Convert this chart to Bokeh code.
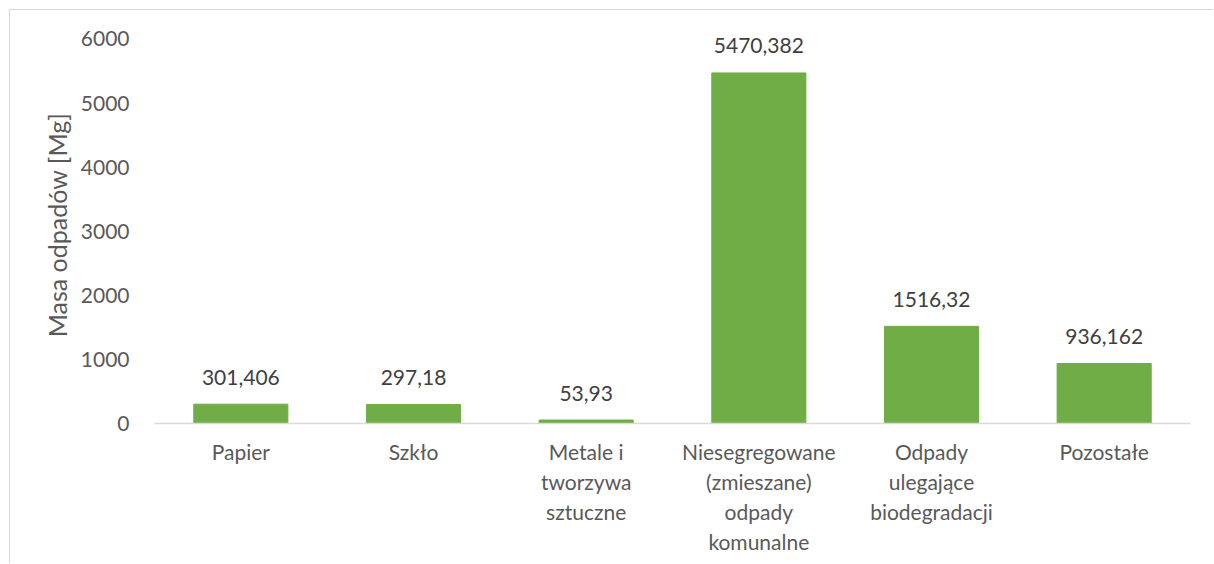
from bokeh.plotting import figure
from bokeh.models import ColumnDataSource, Range1d, FixedTicker
from bokeh.core.properties import value
from bokeh.embed import file_html
from bokeh.resources import INLINE

categories = ["Papier", "Szkło", "Metale i\ntworzywa\nsztuczne",
              "Niesegregowane\n(zmieszane)\nodpady\nkomunalne",
              "Odpady\nulegające\nbiodegradacji", "Pozostałe"]
values = [301.406, 297.18, 53.93, 5470.382, 1516.32, 936.162]
value_labels = ["301,406", "297,18", "53,93", "5470,382", "1516,32", "936,162"]
y_ticks = [0, 1000, 2000, 3000, 4000, 5000, 6000]
y_title = "Masa odpadów [Mg]"

FONT = "Lato"

src = ColumnDataSource(dict(cat=categories, val=values, lab=value_labels))

p = figure(x_range=categories, y_range=Range1d(0, 6195),
           width=1204, height=554, output_backend="svg", toolbar_location=None,
           min_border_left=144, min_border_right=24, min_border_top=16,
           min_border_bottom=141)
p.styles = {"margin-left": "9px", "margin-top": "9px",
            "border-left": "1px solid #D9D9D9", "border-top": "1px solid #D9D9D9"}
p.outline_line_color = None
p.background_fill_color = "white"
p.border_fill_color = "white"
p.xgrid.visible = False
p.ygrid.visible = False
p.x_range.range_padding = 0

p.vbar(x="cat", top="val", width=0.545, source=src, color="#70AD47")
p.text(x="cat", y="val", text="lab", source=src, text_align="center",
       text_baseline="alphabetic", y_offset=-27, text_font=value(FONT),
       text_font_size="21px", text_color="#404040")

ya = p.yaxis[0]
ya.ticker = FixedTicker(ticks=y_ticks)
ya.axis_line_color = None
ya.major_tick_line_color = None
ya.minor_tick_line_color = None
ya.major_tick_out = 0
ya.major_label_standoff = 25
ya.major_label_text_font = FONT
ya.major_label_text_font_size = "21px"
ya.major_label_text_color = "#595959"
ya.axis_label = y_title
ya.axis_label_text_font = FONT
ya.axis_label_text_font_size = "25px"
ya.axis_label_text_font_style = "normal"
ya.axis_label_text_color = "#595959"
ya.axis_label_standoff = 6

xa = p.xaxis[0]
xa.axis_line_color = "#D9D9D9"
xa.axis_line_width = 1.5
xa.major_tick_line_color = None
xa.minor_tick_line_color = None
xa.major_tick_out = 0
xa.major_label_standoff = 15
xa.major_label_text_font = FONT
xa.major_label_text_font_size = "21px"
xa.major_label_text_color = "#595959"
xa.major_label_text_line_height = 1.2

open("out.html", "w").write(file_html(p, INLINE))
